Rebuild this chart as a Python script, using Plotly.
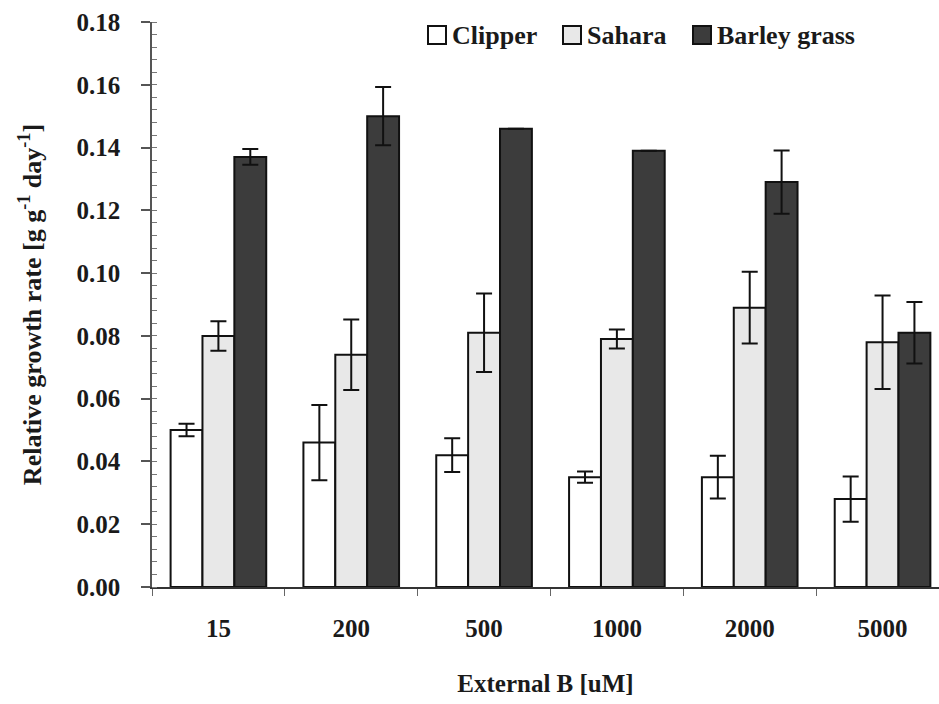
import plotly.graph_objects as go

# External boron concentrations (uM)
categories = ["15", "200", "500", "1000", "2000", "5000"]

# Relative growth rate (g g-1 day-1) and standard errors
clipper = [0.050, 0.046, 0.042, 0.035, 0.035, 0.028]
clipper_err = [0.002, 0.012, 0.0054, 0.0018, 0.0068, 0.0072]

sahara = [0.080, 0.074, 0.081, 0.079, 0.089, 0.078]
sahara_err = [0.0047, 0.0112, 0.0125, 0.003, 0.0114, 0.0149]

barley = [0.137, 0.150, 0.146, 0.139, 0.129, 0.081]
barley_err = [0.0025, 0.0093, 0.0, 0.0, 0.0101, 0.0098]

y_ticks = [0.00, 0.02, 0.04, 0.06, 0.08, 0.10, 0.12, 0.14, 0.16, 0.18]
y_tick_text = ["0.00", "0.02", "0.04", "0.06", "0.08", "0.10",
               "0.12", "0.14", "0.16", "0.18"]

font_family = "Liberation Serif"
text_color = "#1a1a1a"
edge_color = "#111111"

series = [
    ("Clipper", clipper, clipper_err, "#ffffff"),
    ("Sahara", sahara, sahara_err, "#e8e8e8"),
    ("Barley grass", barley, barley_err, "#3c3c3c"),
]

fig = go.Figure()
for name, vals, errs, color in series:
    fig.add_trace(go.Bar(
        name=name,
        x=categories,
        y=vals,
        showlegend=False,
        marker=dict(color=color, line=dict(color=edge_color, width=2)),
        error_y=dict(type="data", array=errs, visible=True,
                     color=edge_color, thickness=2, width=8),
    ))

txt = dict(family=font_family, size=25, color=text_color)

# Key along the top: a filled square followed by the series name
W, H = 939, 704
ml, mr, mt, mb = 152, 0, 22, 117
pw, ph = W - ml - mr, H - mt - mb


def px_x(px):
    return (px - ml) / pw


def px_y(py):
    return (H - mb - py) / ph


key_left = [428, 563, 693]
key_size = 18
key_mid = 35
for (name, _, _, color), left in zip(series, key_left):
    fig.add_shape(
        type="rect", xref="paper", yref="paper",
        x0=px_x(left), x1=px_x(left + key_size),
        y0=px_y(key_mid + key_size / 2), y1=px_y(key_mid - key_size / 2),
        fillcolor=color, line=dict(color=edge_color, width=2),
    )
    fig.add_annotation(
        xref="paper", yref="paper",
        x=px_x(left + key_size + 4), y=px_y(key_mid),
        xanchor="left", yanchor="middle",
        text="<b>" + name + "</b>", showarrow=False,
        font=dict(family=font_family, size=26, color=text_color),
    )

fig.update_layout(
    width=W,
    height=H,
    barmode="group",
    bargap=0.28,
    bargroupgap=0,
    plot_bgcolor="white",
    paper_bgcolor="white",
    margin=dict(l=ml, r=mr, t=mt, b=mb),
    font=txt,
    showlegend=False,
    xaxis=dict(
        type="category",
        range=[-0.5, 5.425],
        tickvals=categories,
        ticktext=["<b>" + c + "</b>" for c in categories],
        showline=True,
        linecolor="#333333",
        linewidth=1.5,
        ticks="outside",
        tickson="boundaries",
        ticklen=7,
        tickcolor="#666666",
        tickwidth=1,
        ticklabelstandoff=18,
        tickfont=txt,
        showgrid=False,
        zeroline=False,
        title=dict(text="<b>External B [uM]</b>", font=txt, standoff=34),
    ),
    yaxis=dict(
        range=[0, 0.18],
        tickvals=y_ticks,
        ticktext=["<b>" + t + "</b>" for t in y_tick_text],
        showline=True,
        linecolor="#555555",
        linewidth=1.5,
        ticks="outside",
        ticklen=9,
        tickcolor="#555555",
        tickwidth=1.5,
        ticklabelstandoff=16,
        tickfont=txt,
        minor=dict(dtick=0.004, ticks="inside", ticklen=5,
                   tickcolor="#777777", tickwidth=1, showgrid=False),
        showgrid=False,
        zeroline=False,
        title=dict(
            text="<b>Relative growth rate [g g<sup>-1</sup> day<sup>-1</sup>]</b>",
            font=dict(family=font_family, size=26, color=text_color),
            standoff=27,
        ),
    ),
)

fig.write_html("out.html")
